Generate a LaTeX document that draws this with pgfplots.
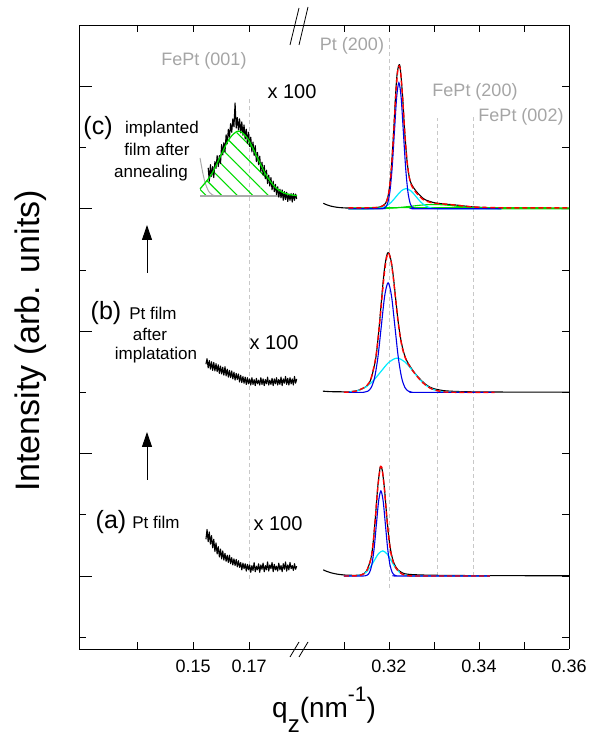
\documentclass[border=0pt]{standalone}
\usepackage{pgfplots}
\pgfplotsset{compat=1.18}
\usepackage{fontspec}
\setmainfont{Liberation Sans}
\usetikzlibrary{arrows.meta,patterns.meta}

\definecolor{fitgreen}{RGB}{0,220,0}
\definecolor{fitcyancol}{RGB}{0,235,255}
\definecolor{fitbluecol}{RGB}{0,0,230}
\definecolor{fitredcol}{RGB}{255,0,0}
\definecolor{refgray}{RGB}{200,200,200}
\definecolor{labgray}{RGB}{165,165,165}
\definecolor{bggray}{RGB}{170,170,170}
\newcommand{\fs}[1]{\fontsize{#1}{#1}\selectfont}

\pgfplotsset{
  brk/.style={
    scale only axis, height=624pt, ymin=-1.193, ymax=9.003,
    anchor=south west, tick align=inside,
    axis line style={line width=0.7pt},
    every tick/.style={black, line width=0.6pt},
    major tick length=7pt,
    tick label style={font=\fs{18}},
    xticklabel style={yshift=-7pt},
    yticklabel style={text opacity=0},
    /pgf/number format/assume math mode=true,
  },
  data/.style={black, line width=1.1pt, line join=round},
  fitred/.style={fitredcol, line width=1.4pt, dash pattern=on 5pt off 3pt, smooth},
  fitblue/.style={fitbluecol, line width=1.1pt, smooth},
  fitcyan/.style={fitcyancol, line width=1.2pt, smooth},
  fitgr/.style={fitgreen, line width=1.1pt, smooth},
  refl/.style={refgray, line width=0.8pt, dash pattern=on 4pt off 3pt},
}

\begin{document}
\begin{tikzpicture}
\useasboundingbox (0pt,0pt) rectangle (601pt,736pt);

% left segment (x100 region)
\begin{axis}[brk, at={(79pt,87pt)}, width=218pt,
  xmin=0.1093, xmax=0.1871, axis y line*=none, ytick=\empty,
  xtick={0.13,0.15,0.17}, xticklabels={,0.15,0.17}]
\addplot[refl] coordinates {(0.17,-0.05)(0.17,7.83)};
% (c) fit area and background
\addplot[draw=none, pattern={Lines[angle=-45,distance=11pt,line width=1.1pt]}, pattern color=fitgreen]
  coordinates {(0.1525,6.21)(0.1525,6.325)(0.15647,6.554)(0.15973,6.853)(0.16299,7.146)(0.16625,7.27)(0.16951,7.146)(0.17277,6.853)(0.17603,6.554)(0.17929,6.353)(0.18255,6.257)(0.18581,6.222)(0.1871,6.217)(0.1871,6.21)};
\addplot[bggray, line width=1pt, smooth] coordinates {(0.1525,6.83)(0.1530,6.70)(0.1535,6.58)(0.1540,6.48)(0.1545,6.40)(0.1550,6.34)(0.1555,6.29)(0.1560,6.26)(0.1570,6.225)(0.1580,6.212)(0.1600,6.21)};
\addplot[bggray, line width=1.2pt] coordinates {(0.1525,6.21)(0.1871,6.21)};
\addplot[data] coordinates {(0.1554,6.67)(0.1558,6.45)(0.1562,6.72)(0.1566,6.53)(0.1570,6.69)(0.1574,6.51)(0.1578,6.77)(0.1582,6.66)(0.1586,6.87)(0.1590,6.69)(0.1594,6.87)(0.1598,6.74)(0.1602,7.05)(0.1606,6.88)(0.1610,7.08)(0.1614,6.93)(0.1618,7.21)(0.1622,7.06)(0.1626,7.30)(0.1630,7.17)(0.1634,7.39)(0.1638,7.25)(0.1642,7.47)(0.1646,7.34)(0.1650,7.73)(0.1654,7.32)(0.1658,7.49)(0.1662,7.29)(0.1666,7.47)(0.1670,7.24)(0.1674,7.42)(0.1678,7.20)(0.1682,7.37)(0.1686,7.14)(0.1690,7.30)(0.1694,7.07)(0.1698,7.25)(0.1702,7.02)(0.1706,7.17)(0.1710,6.93)(0.1714,7.09)(0.1718,6.87)(0.1722,7.03)(0.1726,6.77)(0.1730,6.92)(0.1734,6.72)(0.1738,6.86)(0.1742,6.61)(0.1746,6.76)(0.1750,6.55)(0.1754,6.71)(0.1758,6.49)(0.1762,6.63)(0.1766,6.41)(0.1770,6.55)(0.1774,6.37)(0.1778,6.51)(0.1782,6.31)(0.1786,6.45)(0.1790,6.28)(0.1794,6.40)(0.1798,6.23)(0.1802,6.36)(0.1806,6.19)(0.1810,6.32)(0.1814,6.18)(0.1818,6.31)(0.1822,6.14)(0.1826,6.28)(0.1830,6.15)(0.1834,6.27)(0.1838,6.12)(0.1842,6.24)(0.1846,6.14)(0.1850,6.25)(0.1854,6.11)(0.1858,6.25)(0.1862,6.14)(0.1866,6.24)(0.1870,6.16)};
\addplot[fitgr, line width=1.3pt] coordinates {(0.1525,6.325)(0.15647,6.554)(0.15973,6.853)(0.16299,7.146)(0.16625,7.27)(0.16951,7.146)(0.17277,6.853)(0.17603,6.554)(0.17929,6.353)(0.18255,6.257)(0.18581,6.222)(0.1871,6.217)};
% (b)
\addplot[data] coordinates {(0.1546,3.46)(0.1550,3.55)(0.1554,3.40)(0.1558,3.52)(0.1562,3.38)(0.1566,3.50)(0.1570,3.36)(0.1574,3.49)(0.1578,3.35)(0.1582,3.47)(0.1586,3.34)(0.1590,3.45)(0.1594,3.31)(0.1598,3.43)(0.1602,3.30)(0.1606,3.41)(0.1610,3.28)(0.1614,3.42)(0.1618,3.27)(0.1622,3.38)(0.1626,3.25)(0.1630,3.36)(0.1634,3.24)(0.1638,3.35)(0.1642,3.22)(0.1646,3.33)(0.1650,3.20)(0.1654,3.31)(0.1658,3.21)(0.1662,3.30)(0.1666,3.17)(0.1670,3.28)(0.1674,3.16)(0.1678,3.26)(0.1682,3.15)(0.1686,3.25)(0.1690,3.13)(0.1694,3.24)(0.1698,3.14)(0.1702,3.22)(0.1706,3.12)(0.1710,3.24)(0.1714,3.13)(0.1718,3.21)(0.1722,3.11)(0.1726,3.23)(0.1730,3.14)(0.1734,3.20)(0.1738,3.12)(0.1742,3.24)(0.1746,3.13)(0.1750,3.22)(0.1754,3.11)(0.1758,3.21)(0.1762,3.14)(0.1766,3.25)(0.1770,3.12)(0.1774,3.20)(0.1778,3.13)(0.1782,3.23)(0.1786,3.11)(0.1790,3.22)(0.1794,3.14)(0.1798,3.24)(0.1802,3.12)(0.1806,3.21)(0.1810,3.13)(0.1814,3.25)(0.1818,3.11)(0.1822,3.22)(0.1826,3.15)(0.1830,3.26)(0.1834,3.13)(0.1838,3.23)(0.1842,3.12)(0.1846,3.24)(0.1850,3.14)(0.1854,3.22)(0.1858,3.12)(0.1862,3.26)(0.1866,3.15)(0.1870,3.22)};
% (a)
\addplot[data] coordinates {(0.1546,0.60)(0.1550,0.76)(0.1554,0.56)(0.1558,0.72)(0.1562,0.52)(0.1566,0.66)(0.1570,0.46)(0.1574,0.60)(0.1578,0.40)(0.1582,0.54)(0.1586,0.36)(0.1590,0.48)(0.1594,0.31)(0.1598,0.44)(0.1602,0.28)(0.1606,0.41)(0.1610,0.26)(0.1614,0.37)(0.1618,0.24)(0.1622,0.34)(0.1626,0.22)(0.1630,0.34)(0.1634,0.20)(0.1638,0.30)(0.1642,0.18)(0.1646,0.28)(0.1650,0.17)(0.1654,0.27)(0.1658,0.15)(0.1662,0.25)(0.1666,0.14)(0.1670,0.22)(0.1674,0.10)(0.1678,0.21)(0.1682,0.12)(0.1686,0.20)(0.1690,0.08)(0.1694,0.19)(0.1698,0.10)(0.1702,0.18)(0.1706,0.06)(0.1710,0.17)(0.1714,0.09)(0.1718,0.22)(0.1722,0.07)(0.1726,0.16)(0.1730,0.10)(0.1734,0.20)(0.1738,0.06)(0.1742,0.18)(0.1746,0.11)(0.1750,0.21)(0.1754,0.07)(0.1758,0.17)(0.1762,0.10)(0.1766,0.23)(0.1770,0.08)(0.1774,0.18)(0.1778,0.12)(0.1782,0.22)(0.1786,0.07)(0.1790,0.19)(0.1794,0.10)(0.1798,0.16)(0.1802,0.08)(0.1806,0.21)(0.1810,0.10)(0.1814,0.17)(0.1818,0.07)(0.1822,0.20)(0.1826,0.11)(0.1830,0.23)(0.1834,0.08)(0.1838,0.18)(0.1842,0.10)(0.1846,0.22)(0.1850,0.12)(0.1854,0.17)(0.1858,0.09)(0.1862,0.20)(0.1866,0.11)(0.1870,0.16)};
\end{axis}

% left y ticks (long and short)
\begin{axis}[brk, at={(79pt,87pt)}, width=218pt,
  xmin=0.1093, xmax=0.1871, hide x axis, axis y line*=left,
  ytick={0,2,4,6,8}, minor ytick={-1,1,3,5,7},
  major tick length=13pt, minor tick length=7pt]
\end{axis}

% right segment
\begin{axis}[brk, at={(297pt,87pt)}, width=272pt,
  xmin=0.29956, xmax=0.36, axis y line*=right,
  ytick={-1,0,...,8},
  xtick={0.31,0.32,0.33,0.34,0.35,0.36}, xticklabels={,0.32,,0.34,,0.36}]
\addplot[refl] coordinates {(0.32,-0.2)(0.32,8.79)};
\addplot[refl] coordinates {(0.3307,0)(0.3307,7.48)};
\addplot[refl] coordinates {(0.3387,0)(0.3387,7.50)};
% (c)
\addplot[data, smooth] coordinates {(0.3054,6.09)(0.306,6.07)(0.307,6.045)(0.308,6.03)(0.309,6.02)(0.311,6.012)(0.315,6.012)(0.317,6.02)(0.318,6.03)(0.319,6.07)(0.3195,6.13)(0.320,6.29)(0.3205,6.64)(0.321,7.22)(0.3215,7.90)(0.3218,8.20)(0.3222,8.35)(0.3225,8.30)(0.323,7.86)(0.3235,7.25)(0.324,6.79)(0.3245,6.52)(0.325,6.40)(0.326,6.29)(0.327,6.21)(0.328,6.15)(0.330,6.10)(0.332,6.08)(0.335,6.06)(0.338,6.035)(0.340,6.025)(0.345,6.012)(0.350,6.008)(0.360,6.005)};
\addplot[fitgr] coordinates {(0.311,6.012)(0.330,6.02)(0.360,6.015)};
\addplot[fitgr] coordinates {(0.311,6.0005)(0.315,6.0008)(0.320,6.0095)(0.3225,6.023)(0.325,6.042)(0.3275,6.062)(0.330,6.07)(0.3325,6.062)(0.335,6.042)(0.3375,6.023)(0.340,6.0095)(0.345,6.0008)(0.360,6.0)};
\addplot[fitcyan] coordinates {(0.311,6)(0.3150,6.0001)(0.3172,6.0037)(0.3183,6.0145)(0.3194,6.0447)(0.3205,6.107)(0.3216,6.200)(0.3227,6.291)(0.3238,6.33)(0.3249,6.291)(0.3260,6.200)(0.3271,6.107)(0.3282,6.0447)(0.3293,6.0145)(0.3304,6.0037)(0.3326,6.0001)(0.345,6)};
\addplot[fitblue] coordinates {(0.311,6)(0.3182,6.001)(0.3187,6.0045)(0.3192,6.023)(0.3197,6.090)(0.3202,6.279)(0.3207,6.669)(0.3212,7.249)(0.3217,7.818)(0.3222,8.06)(0.3227,7.818)(0.3232,7.249)(0.3237,6.669)(0.3242,6.279)(0.3247,6.090)(0.3252,6.023)(0.3257,6.0045)(0.3262,6.001)(0.345,6)};
\addplot[fitred] coordinates {(0.311,6.016)(0.315,6.016)(0.317,6.020)(0.318,6.029)(0.319,6.064)(0.3195,6.125)(0.320,6.282)(0.3205,6.619)(0.321,7.179)(0.3215,7.835)(0.322,8.290)(0.3225,8.285)(0.323,7.846)(0.3235,7.257)(0.324,6.786)(0.3245,6.513)(0.325,6.383)(0.326,6.267)(0.327,6.188)(0.328,6.133)(0.330,6.091)(0.332,6.080)(0.335,6.058)(0.338,6.034)(0.340,6.025)(0.345,6.016)(0.350,6.015)(0.360,6.015)};
% (b)
\addplot[data, smooth] coordinates {(0.3053,3.02)(0.307,3.012)(0.309,3.01)(0.311,3.01)(0.313,3.03)(0.315,3.10)(0.316,3.22)(0.317,3.53)(0.3175,3.83)(0.318,4.22)(0.3185,4.65)(0.319,5.02)(0.3195,5.24)(0.3198,5.283)(0.320,5.275)(0.3205,5.14)(0.321,4.87)(0.3215,4.52)(0.322,4.18)(0.3225,3.92)(0.323,3.73)(0.3235,3.60)(0.324,3.51)(0.325,3.39)(0.326,3.29)(0.327,3.21)(0.328,3.14)(0.329,3.09)(0.330,3.06)(0.332,3.03)(0.335,3.015)(0.340,3.008)(0.350,3.004)(0.360,3.003)};
\addplot[fitcyan] coordinates {(0.310,3.003)(0.311,3.006)(0.3128,3.025)(0.3146,3.076)(0.3164,3.182)(0.3182,3.340)(0.3200,3.494)(0.3218,3.56)(0.3236,3.494)(0.3254,3.340)(0.3272,3.182)(0.3290,3.076)(0.3308,3.025)(0.3326,3.006)(0.3344,3.001)(0.3435,3.0)};
\addplot[fitblue] coordinates {(0.310,3)(0.3138,3.0005)(0.31455,3.004)(0.3153,3.020)(0.31605,3.079)(0.3168,3.242)(0.31755,3.581)(0.3183,4.086)(0.31905,4.580)(0.3198,4.79)(0.32055,4.580)(0.3213,4.086)(0.32205,3.581)(0.3228,3.242)(0.32355,3.079)(0.3243,3.020)(0.32505,3.004)(0.3258,3.0005)(0.3435,3)};
\addplot[fitred] coordinates {(0.310,3.004)(0.311,3.006)(0.313,3.029)(0.315,3.105)(0.316,3.226)(0.317,3.545)(0.3175,3.829)(0.318,4.192)(0.3185,4.597)(0.319,4.966)(0.3195,5.211)(0.3198,5.27)(0.320,5.268)(0.3205,5.130)(0.321,4.846)(0.3215,4.500)(0.322,4.169)(0.3225,3.904)(0.323,3.714)(0.3235,3.587)(0.324,3.500)(0.325,3.381)(0.326,3.284)(0.327,3.197)(0.328,3.127)(0.329,3.076)(0.330,3.042)(0.332,3.010)(0.335,3.001)(0.3435,3.0)};
% (a)
\addplot[data, smooth] coordinates {(0.3054,0.10)(0.306,0.08)(0.307,0.055)(0.308,0.037)(0.309,0.025)(0.310,0.017)(0.311,0.012)(0.313,0.012)(0.314,0.025)(0.315,0.08)(0.316,0.29)(0.3165,0.56)(0.317,0.98)(0.3175,1.45)(0.318,1.76)(0.3182,1.78)(0.3185,1.73)(0.319,1.42)(0.3195,0.98)(0.320,0.61)(0.3205,0.37)(0.321,0.23)(0.3215,0.15)(0.322,0.10)(0.323,0.05)(0.324,0.03)(0.326,0.02)(0.330,0.012)(0.340,0.006)(0.360,0.004)};
\addplot[fitcyan] coordinates {(0.310,0)(0.3129,0.0046)(0.31385,0.018)(0.3148,0.0555)(0.31575,0.133)(0.3167,0.2487)(0.31765,0.3618)(0.3186,0.41)(0.31955,0.3618)(0.3205,0.2487)(0.32145,0.133)(0.3224,0.0555)(0.32335,0.018)(0.3243,0.0046)(0.3265,0)(0.3424,0)};
\addplot[fitblue] coordinates {(0.310,0)(0.3142,0.0004)(0.3147,0.003)(0.3152,0.0154)(0.3157,0.061)(0.3162,0.188)(0.3167,0.451)(0.3172,0.843)(0.3177,1.227)(0.3182,1.39)(0.3187,1.227)(0.3192,0.843)(0.3197,0.451)(0.3202,0.188)(0.3207,0.061)(0.3212,0.0154)(0.3217,0.003)(0.3222,0.0004)(0.3424,0)};
\addplot[fitred] coordinates {(0.310,0)(0.311,0.0)(0.313,0.005)(0.314,0.022)(0.315,0.077)(0.316,0.284)(0.3165,0.550)(0.317,0.965)(0.3175,1.435)(0.318,1.752)(0.3182,1.791)(0.3185,1.739)(0.319,1.410)(0.3195,0.963)(0.320,0.588)(0.3205,0.347)(0.321,0.212)(0.3215,0.134)(0.322,0.084)(0.323,0.028)(0.324,0.007)(0.325,0.0015)(0.327,0)(0.3424,0)};
\end{axis}

% axis break marks
\draw[line width=0.8pt] (290pt,691pt) -- (299pt,728pt) (299pt,691pt) -- (308pt,729pt);
\draw[line width=0.8pt] (290pt,79pt) -- (299pt,94pt) (299pt,79pt) -- (308pt,94pt);

% peak labels
\begin{scope}[every node/.style={inner sep=0pt, text=labgray, font=\fs{18}}]
\node at (204pt,675pt) {FePt (001)};
\node at (352pt,690pt) {Pt (200)};
\node at (475pt,644pt) {FePt (200)};
\node at (521pt,619pt) {FePt (002)};
\end{scope}

% sample labels
\begin{scope}[every node/.style={inner sep=0pt, font=\fs{17}}]
\node[font=\fs{20}] at (292pt,644pt) {x 100};
\node[font=\fs{20}] at (274pt,393pt) {x 100};
\node[font=\fs{20}] at (278pt,212pt) {x 100};
\node[font=\fs{25}] at (98pt,608pt) {(c)};
\node at (162pt,607pt) {implanted};
\node at (157pt,587pt) {film after};
\node at (151pt,563pt) {annealing};
\node[font=\fs{25}] at (106pt,423pt) {(b)};
\node at (153pt,423pt) {Pt film};
\node at (150pt,402pt) {after};
\node at (156pt,381pt) {implatation};
\node[font=\fs{25}] at (111pt,214pt) {(a)};
\node at (156pt,214pt) {Pt film};
\end{scope}

\draw[line width=1pt, -{Triangle[length=15pt,width=10pt]}] (147pt,463pt) -- (147pt,511pt);
\draw[line width=1pt, -{Triangle[length=15pt,width=10pt]}] (147pt,256pt) -- (147pt,304pt);

% axis titles
\node[rotate=90, inner sep=0pt, font=\fs{34}] at (31pt,395pt) {Intensity (arb. units)};
\node[anchor=base west, inner sep=0pt, font=\fs{28}] at (272pt,18pt)
  {q\raisebox{-14pt}{\fs{24}z}(nm\raisebox{17pt}{\fs{21}-1})};
\end{tikzpicture}
\end{document}
